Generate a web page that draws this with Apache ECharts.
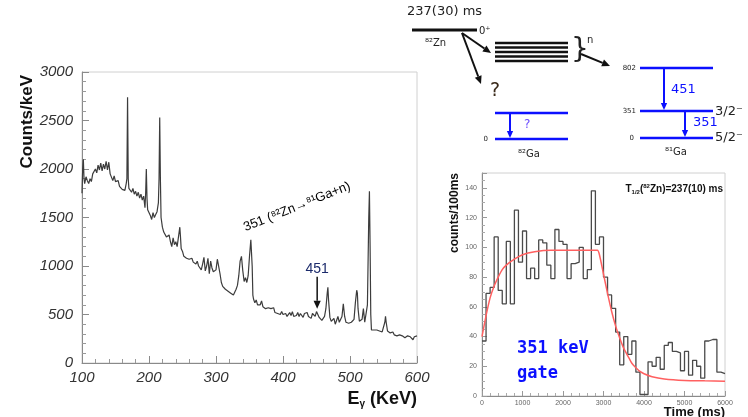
<!DOCTYPE html>
<html><head><meta charset="utf-8">
<script src="https://cdn.jsdelivr.net/npm/echarts@6/dist/echarts.min.js"></script>
<style>html,body{margin:0;padding:0;background:#fff}#c{width:748px;height:417px}</style>
</head><body><div id="c"></div>
<script>
// ---------- Left: gamma spectrum (Counts/keV vs E_gamma) ----------
const energies = [100,101,102,103,104,106,108,110,112,114,116,118,120,122,124,126,128,130,132,134,136,138,140,142,144,146,148,150,152,154,156,158,160,162,164,166,167,168,169,170,172,174,176,178,180,182,184,186,188,190,192,194,195,196,197,198,200,202,204,206,208,210,212,214,215,216,217,218,220,222,224,226,228,230,232,234,236,238,240,242,244,246,247,248,250,252,254,256,258,260,262,264,266,268,270,272,274,276,278,280,282,284,286,288,290,292,294,296,298,300,302,304,306,308,310,312,314,316,318,320,322,324,326,328,330,332,334,336,338,340,342,344,346,348,350,352,354,355,356,358,360,362,364,366,368,370,372,374,376,378,380,382,384,386,388,390,392,394,396,398,400,402,404,406,408,410,412,414,416,418,420,422,424,426,428,430,432,434,436,438,440,442,444,446,448,450,452,454,456,458,460,462,464,466,467,468,470,472,474,476,478,480,482,484,486,488,490,491,492,494,496,498,500,502,504,506,508,510,511,512,514,516,518,520,521,522,524,526,528,529,530,531,532,534,536,538,540,542,544,546,548,550,552,553,554,556,558,560,562,564,566,568,570,572,574,576,578,580,582,584,586,588,590,592,594,596,598,600];
const counts = [1750,2000,2100,1900,1850,1920,1880,1850,1900,1870,1950,1930,2000,1960,2040,1990,2060,1980,2050,2000,2080,1990,2070,1950,1960,1880,1930,1870,1850,1880,1820,1840,1790,1800,1780,1850,1900,2740,1900,1800,1780,1760,1800,1740,1770,1720,1760,1700,1740,1680,1720,1600,1750,2000,1700,1580,1600,1520,1480,1550,1500,1530,1560,1650,1900,2530,1900,1500,1400,1350,1360,1300,1280,1320,1250,1200,1290,1220,1250,1200,1180,1400,1300,1180,1150,1100,1120,1080,1100,1070,1050,1080,1040,1030,1020,1050,1000,990,960,1020,1090,950,1000,1080,920,1050,980,940,930,960,1070,1080,920,830,790,780,760,770,740,750,720,730,700,720,760,800,900,1050,1100,950,840,880,830,900,1100,1270,1000,700,660,620,650,600,620,600,640,580,600,560,580,570,550,560,540,570,520,540,510,530,500,530,500,490,510,480,500,520,490,530,480,500,490,520,480,510,500,470,510,490,520,480,500,460,510,490,480,530,520,470,480,440,440,480,560,720,780,650,470,430,420,460,400,410,480,420,420,480,610,600,480,420,400,410,390,420,400,450,620,750,720,560,430,420,450,560,540,420,400,600,1500,1770,1200,500,340,320,340,330,340,320,330,340,320,340,420,480,420,330,320,310,300,320,290,300,280,300,290,270,280,290,260,270,280,260,270,250,240,270,250,280];

// ---------- Right: 351 keV gated time spectrum ----------
const binWidthMs = 100;
const histCounts = [37,69,73,107,71,62,104,62,125,90,111,79,86,79,105,103,88,79,112,104,102,79,89,90,100,79,85,138,102,107,80,68,59,43,21,40,28,37,16,1,1,23,20,26,18,34,36,30,29,17,30,14,24,20,12,37,38,38,16,15];
const fitTimes  = [0,100,200,300,400,500,600,800,1000,1300,1700,2000,2500,2850,2900,3000,3100,3200,3300,3400,3500,3600,3700,3800,3900,4000,4200,4500,5000,5500,6000];
const fitValues = [40,54,66,74,80,85,88,92,95,97,98,98,98,98,95,82,69,57,47,39,32,27,22,19,16.5,15,13,11.5,10.5,10.2,10];

const spectrumData = energies.map((e, i) => [e, counts[i]]);
const histData = histCounts.map((v, i) => [i * binWidthMs, v]);
histData.push([histCounts.length * binWidthMs, histCounts[histCounts.length - 1]]);
const fitData = fitTimes.map((t, i) => [t, fitValues[i]]);

const chart = echarts.init(document.getElementById('c'), null, {renderer: 'canvas'});
const plain = v => String(v);
const leftLabel = {fontFamily: 'Liberation Sans', fontStyle: 'italic', fontSize: 15, color: '#333', formatter: plain};
const smallLabel = {fontFamily: 'Liberation Sans', fontSize: 7, color: '#666', formatter: plain};
const axisGrey = {lineStyle: {color: '#8a8a8a', width: 1}};

chart.setOption({
  animation: false,
  backgroundColor: '#fff',
  grid: [
    {left: 82, top: 72, width: 335, height: 291, show: true, borderColor: '#d0d0d0', borderWidth: 1, backgroundColor: 'transparent'},
    {left: 482, top: 173, width: 243, height: 223, show: true, borderColor: '#d0d0d0', borderWidth: 1, backgroundColor: 'transparent'}
  ],
  xAxis: [
    {gridIndex: 0, type: 'value', min: 100, max: 600, interval: 100,
     axisLine: axisGrey, axisTick: {inside: true, length: 7, lineStyle: {color: '#8a8a8a'}},
     minorTick: {show: true, splitNumber: 5, length: 4, lineStyle: {color: '#999'}},
     splitLine: {show: false}, axisLabel: Object.assign({margin: 7}, leftLabel)},
    {gridIndex: 1, type: 'value', min: 0, max: 6000, interval: 1000,
     axisLine: axisGrey, axisTick: {inside: true, length: 5, lineStyle: {color: '#999'}},
     minorTick: {show: true, splitNumber: 5, length: 3, lineStyle: {color: '#aaa'}},
     splitLine: {show: false}, axisLabel: Object.assign({margin: 4}, smallLabel)}
  ],
  yAxis: [
    {gridIndex: 0, type: 'value', min: 0, max: 3000, interval: 500,
     axisLine: Object.assign({show: true}, axisGrey), axisTick: {show: true, inside: true, length: 7, lineStyle: {color: '#8a8a8a'}},
     minorTick: {show: true, splitNumber: 5, length: 4, lineStyle: {color: '#999'}},
     splitLine: {show: false}, axisLabel: Object.assign({margin: 9}, leftLabel)},
    {gridIndex: 1, type: 'value', min: 0, max: 150, interval: 20,
     axisLine: Object.assign({show: true}, axisGrey), axisTick: {show: true, inside: true, length: 5, lineStyle: {color: '#999'}},
     minorTick: {show: true, splitNumber: 4, length: 3, lineStyle: {color: '#aaa'}},
     splitLine: {show: false}, axisLabel: Object.assign({margin: 5, showMaxLabel: false}, smallLabel)}
  ],
  series: [
    {type: 'line', xAxisIndex: 0, yAxisIndex: 0, data: spectrumData, showSymbol: false, symbol: 'none',
     lineStyle: {color: '#3c3c3c', width: 1.2}},
    {type: 'line', xAxisIndex: 1, yAxisIndex: 1, data: histData, step: 'end', showSymbol: false, symbol: 'none',
     lineStyle: {color: '#4a4a4a', width: 1.3}},
    {type: 'line', xAxisIndex: 1, yAxisIndex: 1, data: fitData, smooth: 0.2, showSymbol: false, symbol: 'none',
     lineStyle: {color: '#ff6060', width: 1.5}}
  ]
});

// ---------- annotations & level scheme ----------
const BLUE = '#0c10ff';
function txt(x, y, text, o) {
  o = o || {};
  return {type: 'text', x: x, y: y, rotation: o.rotation || 0, z: 10,
    style: {text: text, x: 0, y: 0, fill: o.color || '#222',
      fontSize: o.size || 12, fontFamily: o.family || 'DejaVu Sans', fontWeight: o.weight || 'normal',
      fontStyle: o.style || 'normal',
      align: o.align || 'left', verticalAlign: o.valign || 'middle',
      textAlign: o.align || 'left', textVerticalAlign: o.valign || 'middle',
      rich: o.rich}};
}
function hline(x1, x2, y, color, w) {
  return {type: 'line', z: 10, shape: {x1: x1, y1: y, x2: x2, y2: y}, style: {stroke: color, lineWidth: w}};
}
function arrow(x1, y1, x2, y2, color, w, hl) {
  const a = Math.atan2(y2 - y1, x2 - x1), hw = hl * 0.45;
  const bx = x2 - hl * Math.cos(a), by = y2 - hl * Math.sin(a);
  return [
    {type: 'line', z: 10, shape: {x1: x1, y1: y1, x2: bx, y2: by}, style: {stroke: color, lineWidth: w}},
    {type: 'polygon', z: 10, shape: {points: [[x2, y2], [bx + hw * Math.sin(a), by - hw * Math.cos(a)], [bx - hw * Math.sin(a), by + hw * Math.cos(a)]]},
     style: {fill: color}}
  ];
}

const g = [];
// axis names
g.push(txt(27, 75, 'Counts/keV', {rotation: Math.PI / 2, size: 17, weight: 'bold', family: 'Liberation Sans', color: '#111', align: 'right', valign: 'middle'}));
g.push(txt(417, 399, '{e|E}{g|γ}{e| (KeV)}', {size: 18, weight: 'bold', family: 'Liberation Sans', align: 'right', valign: 'middle', color: '#111',
  rich: {e: {fontSize: 18, fontWeight: 'bold', fontFamily: 'Liberation Sans', fill: '#111'},
         g: {fontSize: 10, fontWeight: 'bold', fontFamily: 'Liberation Sans', fill: '#111', padding: [10, 0, 0, 0]}}}));
g.push(txt(455, 173, 'counts/100ms', {rotation: Math.PI / 2, size: 12, weight: 'bold', family: 'Liberation Sans', color: '#111', align: 'right', valign: 'middle'}));
g.push(txt(725, 412, 'Time (ms)', {size: 13, weight: 'bold', family: 'Liberation Sans', align: 'right', valign: 'middle', color: '#111'}));

// spectrum annotations anchored in data coordinates
const p351 = chart.convertToPixel({gridIndex: 0}, [350, 1330]);
g.push(txt(p351[0] - 3, p351[1], '351 (⁸²Zn→⁸¹Ga+n)', {rotation: 0.38, size: 13, family: 'Liberation Sans', color: '#000', align: 'left', valign: 'bottom'}));
const a1 = chart.convertToPixel({gridIndex: 0}, [451, 890]);
const a2 = chart.convertToPixel({gridIndex: 0}, [451, 560]);
g.push(...arrow(a1[0], a1[1], a2[0], a2[1], '#111', 1.5, 8));
g.push(txt(a1[0], a1[1] - 8, '451', {size: 14, family: 'Liberation Sans', color: '#1b2a6b', align: 'center', valign: 'middle'}));

// right plot texts
g.push(txt(723, 189, '{b|T}{s|1/2}{b|(}{u|82}{b|Zn)=237(10) ms}', {size: 10, align: 'right', valign: 'middle',
  rich: {b: {fontSize: 10, fontWeight: 'bold', fontFamily: 'Liberation Sans', fill: '#111'},
         s: {fontSize: 6, fontWeight: 'bold', fontFamily: 'Liberation Sans', fill: '#111', padding: [6, 0, 0, 0]},
         u: {fontSize: 6, fontWeight: 'bold', fontFamily: 'Liberation Sans', fill: '#111', padding: [0, 0, 6, 0]}}}));
g.push(txt(517, 349, '351 keV', {size: 17, weight: 'bold', family: 'DejaVu Sans Mono', color: BLUE}));
g.push(txt(517, 374, 'gate', {size: 17, weight: 'bold', family: 'DejaVu Sans Mono', color: BLUE}));

// level scheme
g.push(txt(407, 12, '237(30) ms', {size: 13, color: '#222'}));
g.push(hline(412, 477, 30, '#111', 3));
g.push(txt(479, 31, '0⁺', {size: 10, color: '#222'}));
g.push(txt(425, 43, '⁸²Zn', {size: 10, color: '#222'}));
g.push(...arrow(462, 33, 491, 53, '#111', 2, 8));
g.push(...arrow(462, 33, 481, 84, '#111', 2, 8));
g.push(txt(490, 91, '?', {size: 19, color: '#3a2a1a'}));
[43, 47.5, 52, 56.5, 61].forEach(y => g.push(hline(495, 568, y, '#111', 2.5)));
g.push(txt(571, 51, '}', {size: 28, color: '#222'}));
g.push(txt(587, 40, 'n', {size: 10, color: '#222'}));
g.push(...arrow(581, 54, 610, 66, '#111', 2, 8));
// 81Ga
g.push(hline(640, 713, 68, BLUE, 2.5));
g.push(hline(640, 713, 111, BLUE, 2.5));
g.push(hline(640, 713, 138, BLUE, 2.5));
g.push(txt(636, 68, '802', {size: 7, color: '#222', align: 'right'}));
g.push(txt(636, 111, '351', {size: 7, color: '#222', align: 'right'}));
g.push(txt(634, 138, '0', {size: 7, color: '#222', align: 'right'}));
g.push(...arrow(664, 69, 664, 110, BLUE, 2, 7));
g.push(txt(671, 90, '451', {size: 13, color: BLUE}));
g.push(...arrow(685, 112, 685, 137, BLUE, 2, 7));
g.push(txt(693, 123, '351', {size: 13, color: BLUE}));
g.push(txt(715, 112, '3/2⁻', {size: 13, color: '#222'}));
g.push(txt(715, 138, '5/2⁻', {size: 13, color: '#222'}));
g.push(txt(676, 152, '⁸¹Ga', {size: 10, color: '#222', align: 'center'}));
// 82Ga
g.push(hline(495, 568, 113, BLUE, 2.5));
g.push(hline(495, 568, 139, BLUE, 2.5));
g.push(...arrow(510, 114, 510, 138, BLUE, 2, 7));
g.push(txt(524, 125, '?', {size: 12, color: '#6a4cff'}));
g.push(txt(488, 139, '0', {size: 7, color: '#222', align: 'right'}));
g.push(txt(529, 154, '⁸²Ga', {size: 10, color: '#222', align: 'center'}));

chart.setOption({graphic: {elements: g}});
</script>
</body></html>
